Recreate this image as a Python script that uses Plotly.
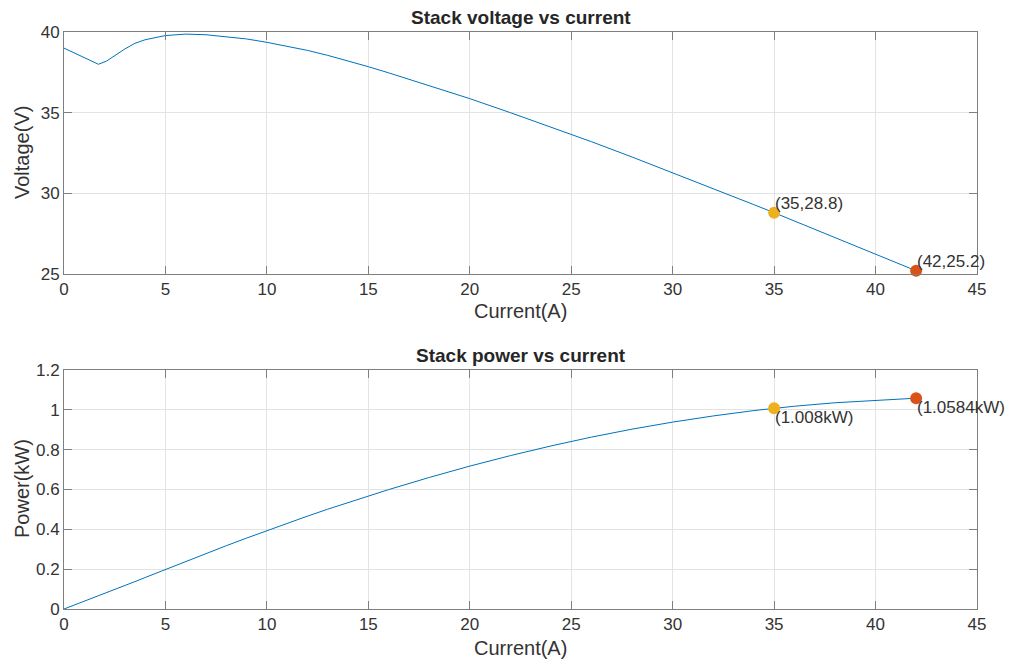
import plotly.graph_objects as go

current = [0, 0.5, 1.0, 1.7, 2.1, 2.5, 3.0, 3.5, 4.0, 5, 6, 7, 8, 9, 10, 11, 12, 13, 14, 15, 16,
           18, 20, 22, 24, 26, 28, 30, 32, 34, 35, 36, 38, 40, 42]
voltage = [39.0, 38.7, 38.4, 38.0, 38.2, 38.55, 38.95, 39.3, 39.52, 39.78, 39.87, 39.83, 39.72,
           39.57, 39.36, 39.13, 38.86, 38.55, 38.21, 37.85, 37.47, 36.69, 35.87, 35.0, 34.11,
           33.2, 32.25, 31.28, 30.29, 29.3, 28.8, 28.28, 27.25, 26.22, 25.2]
power = [0.0, 0.0194, 0.0384, 0.0646, 0.0802, 0.0964, 0.1169, 0.1376, 0.1581, 0.1989, 0.2392,
         0.2788, 0.3178, 0.3561, 0.3936, 0.4304, 0.4663, 0.5012, 0.5349, 0.5678, 0.5995, 0.6604,
         0.7174, 0.770, 0.8186, 0.8632, 0.903, 0.9384, 0.9693, 0.9962, 1.008, 1.0181, 1.0355,
         1.0488, 1.0584]

mark_current = [35, 42]
mark_voltage = [28.8, 25.2]
mark_power = [1.008, 1.0584]
mark_colors = ["#EDB120", "#D95319"]
v_labels = ["(35,28.8)", "(42,25.2)"]
p_labels = ["(1.008kW)", "(1.0584kW)"]

x_ticks = [0, 5, 10, 15, 20, 25, 30, 35, 40, 45]
v_ticks = [25, 30, 35, 40]
p_ticks = [0, 0.2, 0.4, 0.6, 0.8, 1, 1.2]
p_ticklabels = ["0", "0.2", "0.4", "0.6", "0.8", "1", "1.2"]

W, H = 1013, 659
FONT = "Liberation Sans, Arial, sans-serif"
TXT = "#333333"
AX = "#7f7f7f"
GRID = "#e3e3e3"

def px(x):
    return x / W

def py(y):
    return 1 - y / H

fig = go.Figure()
fig.add_trace(go.Scatter(x=current, y=voltage, mode="lines", line=dict(color="#0072BD", width=1),
                         xaxis="x", yaxis="y", showlegend=False, hoverinfo="skip"))
fig.add_trace(go.Scatter(x=current, y=power, mode="lines", line=dict(color="#0072BD", width=1),
                         xaxis="x2", yaxis="y2", showlegend=False, hoverinfo="skip"))
for i in range(2):
    fig.add_trace(go.Scatter(x=[mark_current[i]], y=[mark_voltage[i]], mode="markers",
                             marker=dict(color=mark_colors[i], size=12), xaxis="x", yaxis="y",
                             showlegend=False, cliponaxis=False))
    fig.add_trace(go.Scatter(x=[mark_current[i]], y=[mark_power[i]], mode="markers",
                             marker=dict(color=mark_colors[i], size=12), xaxis="x2", yaxis="y2",
                             showlegend=False, cliponaxis=False))

axis_common = dict(showline=True, linecolor=AX, linewidth=1, mirror="ticks", ticks="inside",
                   ticklen=8, tickcolor=AX, showgrid=True, gridcolor=GRID, gridwidth=1,
                   zeroline=False, automargin=False,
                   tickfont=dict(family=FONT, size=17, color=TXT))

dom_x = [px(64), px(977)]
fig.update_layout(
    width=W, height=H, margin=dict(l=0, r=0, t=0, b=0, pad=0, autoexpand=False),
    paper_bgcolor="white", plot_bgcolor="white",
    xaxis=dict(domain=dom_x, range=[0, 45], tickvals=x_ticks, anchor="y", **axis_common),
    yaxis=dict(domain=[py(274), py(32)], range=[25, 40], tickvals=v_ticks, anchor="x", **axis_common),
    xaxis2=dict(domain=dom_x, range=[0, 45], tickvals=x_ticks, anchor="y2", **axis_common),
    yaxis2=dict(domain=[py(609), py(370)], range=[0, 1.2], tickvals=p_ticks, ticktext=p_ticklabels,
                anchor="x2", **axis_common),
)

ann = []
cx = px((64 + 977) / 2)
ann.append(dict(text="<b>Stack voltage vs current</b>", x=cx, y=py(18), xref="paper", yref="paper",
                showarrow=False, font=dict(family=FONT, size=19, color="#262626"), xanchor="center", yanchor="middle"))
ann.append(dict(text="<b>Stack power vs current</b>", x=cx, y=py(355), xref="paper", yref="paper",
                showarrow=False, font=dict(family=FONT, size=19, color="#262626"), xanchor="center", yanchor="middle"))
ann.append(dict(text="Current(A)", x=cx, y=py(311), xref="paper", yref="paper", showarrow=False,
                font=dict(family=FONT, size=20, color=TXT), xanchor="center", yanchor="middle"))
ann.append(dict(text="Current(A)", x=cx, y=py(648), xref="paper", yref="paper", showarrow=False,
                font=dict(family=FONT, size=20, color=TXT), xanchor="center", yanchor="middle"))
ann.append(dict(text="Voltage(V)", x=px(22), y=py(153), xref="paper", yref="paper", showarrow=False,
                textangle=-90, font=dict(family=FONT, size=20, color=TXT), xanchor="center", yanchor="middle"))
ann.append(dict(text="Power(kW)", x=px(22), y=py(489), xref="paper", yref="paper", showarrow=False,
                textangle=-90, font=dict(family=FONT, size=20, color=TXT), xanchor="center", yanchor="middle"))
for i in range(2):
    ann.append(dict(text=v_labels[i], x=mark_current[i], y=mark_voltage[i], xref="x", yref="y",
                    showarrow=False, xanchor="left", yanchor="bottom", xshift=-1, yshift=-2,
                    font=dict(family=FONT, size=17, color=TXT)))
    ann.append(dict(text=p_labels[i], x=mark_current[i], y=mark_power[i], xref="x2", yref="y2",
                    showarrow=False, xanchor="left", yanchor="top", xshift=-1, yshift=2,
                    font=dict(family=FONT, size=17, color=TXT)))
fig.update_layout(annotations=ann)

fig.write_html("out.html", config={"displayModeBar": False},
               post_script="document.body.style.margin='0';document.body.style.overflow='hidden';")
